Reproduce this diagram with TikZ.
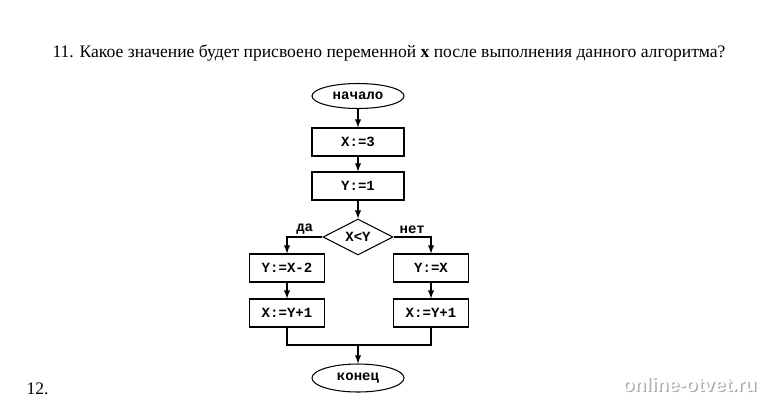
\documentclass[tikz,border=0pt]{standalone}
\usepackage{fontspec}
\setmainfont{Liberation Serif}
\setmonofont{Liberation Mono}
\setsansfont{Liberation Sans}
\usetikzlibrary{shapes.geometric}
\tikzset{
blok/.style={draw,rectangle,inner sep=0pt,minimum width=1.84cm,minimum height=0.56cm,font=\ttfamily\bfseries\fontsize{8}{9}\selectfont},
vetv/.style={blok,minimum width=1.5cm},
term/.style={draw,ellipse,inner sep=0pt,minimum width=1.84cm,minimum height=0.5cm,font=\ttfamily\bfseries\fontsize{8}{9}\selectfont},
uslovie/.style={draw,diamond,inner sep=0pt,minimum width=1.4cm,minimum height=0.72cm,font=\ttfamily\bfseries\fontsize{8}{9}\selectfont},
metka/.style={font=\ttfamily\bfseries\fontsize{8}{9}\selectfont,inner sep=1.5pt},
sait/.style={anchor=base east,inner sep=0pt,font=\sffamily\bfseries\fontsize{11}{12}\selectfont}
}
\begin{document}
\begin{tikzpicture}[x=0.02cm,y=-0.02cm,line width=0.6pt,>=latex]
\useasboundingbox (0,0) rectangle (766,400);
\node[anchor=base west,inner sep=0pt,font=\fontsize{10}{12}\selectfont] (vopros) at (52,57) {11. Какое значение будет присвоено переменной \textbf{x} после выполнения данного алгоритма?};
\node[term] (nachalo) at (358,96) {начало};
\node[blok] (x3) at (358,142) {X:=3};
\node[blok] (y1) at (358,186) {Y:=1};
\node[uslovie] (xy) at (358,237) {X<Y};
\node[vetv] (yx2) at (287,268) {Y:=X-2};
\node[vetv] (xy1a) at (287,313) {X:=Y+1};
\node[vetv] (yx) at (431,268) {Y:=X};
\node[vetv] (xy1b) at (431,313) {X:=Y+1};
\node[term,minimum height=0.56cm] (konec) at (358,378) {конец};
\coordinate (sliyanie) at (358,345);
\draw [->](nachalo)--(x3);
\draw [->](x3)--(y1);
\draw [->](y1)--(xy);
\draw [->](xy.west)-|node[metka,pos=0.25,above]{да}(yx2);
\draw [->](xy.east)-|node[metka,pos=0.25,above]{нет}(yx);
\draw [->](yx2)--(xy1a);
\draw [->](yx)--(xy1b);
\draw (xy1a)|-(sliyanie)-|(xy1b);
\draw [->](sliyanie)--(konec);
\node[anchor=base west,inner sep=0pt,font=\fontsize{10}{12}\selectfont] (sled) at (26,394) {12.};
\node[sait,text=gray!65] (ten) at (758.5,392.5) {online-otvet.ru};
\node[sait,text=white] (adres) at (757,391) {online-otvet.ru};
\end{tikzpicture}
\end{document}
